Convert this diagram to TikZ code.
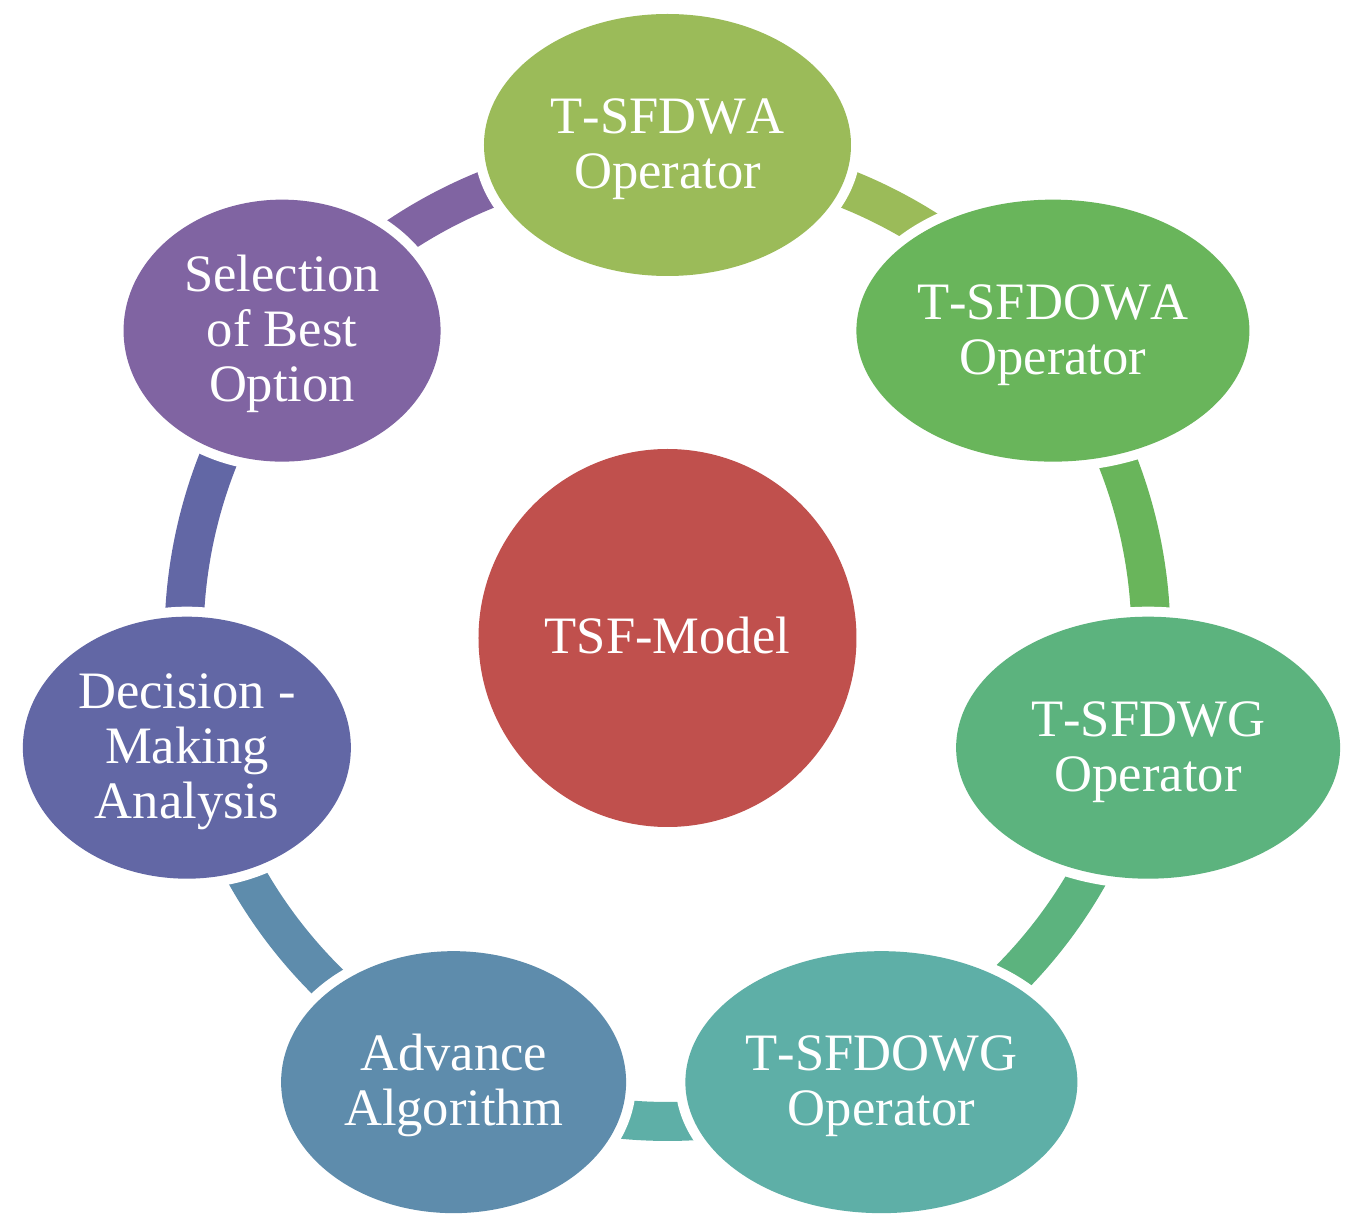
\documentclass[tikz,border=0pt]{standalone}
\usepackage{fontspec}
\setmainfont[Kerning=Off]{Liberation Serif}
\usetikzlibrary{shapes.geometric}

% stage colours, running round the cycle
\definecolor{cA}{HTML}{9BBB59}
\definecolor{cB}{HTML}{69B55B}
\definecolor{cC}{HTML}{5CB37E}
\definecolor{cD}{HTML}{5EAFA7}
\definecolor{cE}{HTML}{5E8CAC}
\definecolor{cF}{HTML}{6267A5}
\definecolor{cG}{HTML}{8064A2}
\definecolor{hubred}{HTML}{C0504D}

% struts that fix the height of the first line and the depth of the last,
% so every label sits at the same height inside its shape
\newcommand\topline{\rule{0pt}{21.7pt}}
\newcommand\lastline{\rule[-5.7pt]{0pt}{5.7pt}}

\begin{document}
\begin{tikzpicture}[x=0.5pt, y=0.5pt,
  stagefont/.style={font=\fontsize{26.3}{27.5}\selectfont},
  stage/.style={ellipse, inner sep=0pt, outer sep=0pt, fill=#1, text=white,
    align=center, stagefont, preaction={draw=white, line width=10pt}},
  hub/.style={circle, inner sep=0pt, fill=hubred, text=white,
    minimum size=189pt, stagefont},
  ring/.style={draw=#1, line width=19.5pt}]
\useasboundingbox (-667.5,-594) rectangle (689.5,638);
\coordinate (c) at (0,0);

% ring segments between consecutive stages (drawn first, stages cover the ends)
\foreach \s/\e/\col in {90/38.571/cA, 38.571/-12.857/cB, -12.857/-64.286/cC,
    -64.286/-115.714/cD, -115.714/-167.143/cE, -167.143/-218.571/cF,
    141.429/90/cG}
  \draw[ring=\col] ([shift={(\s:483.5)}]c) arc[start angle=\s, end angle=\e, radius=483.5];

% the seven stages
\node[stage=cA, minimum width=183.5pt, minimum height=131pt] (n1) at (90:493)
  {\topline T-SFDWA\\Operator\lastline};
\node[stage=cB, minimum width=196.5pt, minimum height=131pt] (n2) at (38.571:493)
  {\topline T-SFDOWA\\Operator\lastline};
\node[stage=cC, minimum width=192pt, minimum height=131pt] (n3) at (-12.857:493)
  {\topline T-SFDWG\\Operator\lastline};
\node[stage=cD, minimum width=196pt, minimum height=131pt] (n4) at (-64.286:493)
  {\topline T-SFDOWG\\Operator\lastline};
\node[stage=cE, minimum width=172.5pt, minimum height=131pt] (n5) at (-115.714:493)
  {\topline Advance\\Algorithm\lastline};
\node[stage=cF, minimum width=164pt, minimum height=131pt] (n6) at (-167.143:493)
  {\topline Decision -\\Making\\Analysis\lastline};
\node[stage=cG, minimum width=158.5pt, minimum height=131pt] (n7) at (141.429:493)
  {\topline Selection\\of Best\\Option\lastline};

% centre
\node[hub] (model) at (c) {\topline TSF-Model\lastline};
\end{tikzpicture}
\end{document}
